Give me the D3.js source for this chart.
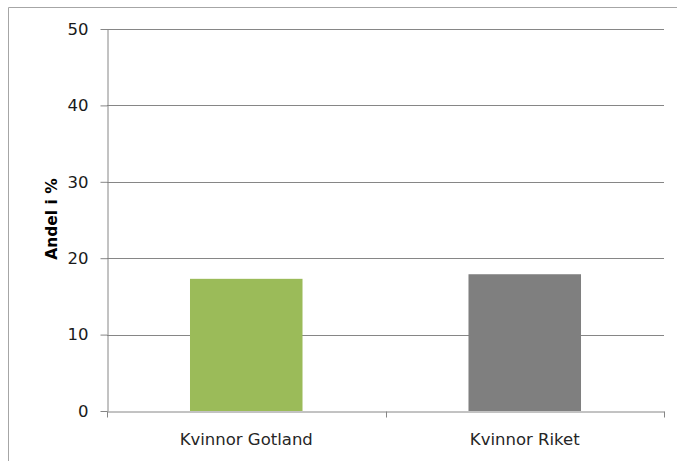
<!DOCTYPE html>
<html>
<head>
<meta charset="utf-8">
<script src="https://cdn.jsdelivr.net/npm/d3@7"></script>
<style>
  body { margin: 0; background: #fff; }
  svg { display: block; }
  svg text { font-family: "DejaVu Sans", sans-serif; }
  .axis path, .axis line { stroke: #868686; }
</style>
</head>
<body>
<div id="chart-area"></div>
<script>
// data
let categories = ["Kvinnor Gotland", "Kvinnor Riket"];
let values = [17.3, 17.9];
let barColors = ["#9BBB59", "#7F7F7F"];
let yTicks = [0, 10, 20, 30, 40, 50];
let yLabel = "Andel i %";

let W = 677, H = 461;
let margin = {top: 29, right: 13, bottom: 50, left: 107};
let width = W - margin.left - margin.right;
let height = H - margin.top - margin.bottom;

let root = d3.select("#chart-area").append("svg")
	.attr("width", W)
	.attr("height", H);

// outer chart frame (only top and left edge visible)
root.append("path")
	.attr("d", "M8.5," + H + "V7.5H" + W)
	.attr("fill", "none")
	.attr("stroke", "#a6a6a6")
	.attr("stroke-width", 1);

let svg = root.append("g")
	.attr("transform", "translate(" + margin.left + "," + margin.top + ")");

// Scales
let x = d3.scaleBand()
	.domain(categories)
	.range([0, width])
	.paddingInner(0.596)
	.paddingOuter(0.298);

let y = d3.scaleLinear()
	.domain([0, 50])
	.range([height, 0]);

// gridlines
svg.append("g")
	.selectAll("line")
	.data(yTicks.filter(d => d > 0))
	.enter()
	.append("line")
	.attr("x1", 0)
	.attr("x2", width)
	.attr("y1", d => Math.round(y(d)) + 0.5)
	.attr("y2", d => Math.round(y(d)) + 0.5)
	.attr("stroke", "#868686")
	.attr("stroke-width", 1);

// bars
svg.selectAll(".bar")
	.data(values)
	.enter()
	.append("rect")
	.classed("bar", true)
	.attr("x", (d, i) => x(categories[i]))
	.attr("y", d => y(d))
	.attr("width", x.bandwidth())
	.attr("height", d => height - y(d))
	.attr("fill", (d, i) => barColors[i]);

// y axis
let yAxisGroup = svg.append("g")
	.classed("axis", true)
	.attr("transform", "translate(0.5,0)")
	.call(d3.axisLeft(y).tickValues(yTicks).tickSize(7).tickPadding(12).tickSizeOuter(0));
yAxisGroup.selectAll("text")
	.style("font-size", "16.5px")
	.style("fill", "#1a1a1a");

// x axis with ticks at category boundaries
let xAxisGroup = svg.append("g")
	.classed("axis", true)
	.attr("transform", "translate(0," + (Math.round(height) + 0.5) + ")")
	.call(d3.axisBottom(x).tickSize(0).tickPadding(22).tickSizeOuter(0));
xAxisGroup.selectAll("text")
	.style("font-size", "16.5px")
	.style("fill", "#262626");

let bounds = d3.range(categories.length + 1).map(i => i * x.step());
xAxisGroup.selectAll(".bound")
	.data(bounds)
	.enter()
	.append("line")
	.classed("bound", true)
	.attr("x1", d => Math.round(d) + 0.5)
	.attr("x2", d => Math.round(d) + 0.5)
	.attr("y1", 0)
	.attr("y2", 6)
	.attr("stroke", "#868686");

// y axis title
svg.append("text")
	.attr("transform", "translate(" + (51.7 - margin.left) + "," + (219 - margin.top) + ") rotate(-90)")
	.attr("text-anchor", "middle")
	.attr("dominant-baseline", "central")
	.style("font-size", "15.5px")
	.style("font-weight", "bold")
	.style("fill", "#000")
	.text(yLabel);
</script>
</body>
</html>
